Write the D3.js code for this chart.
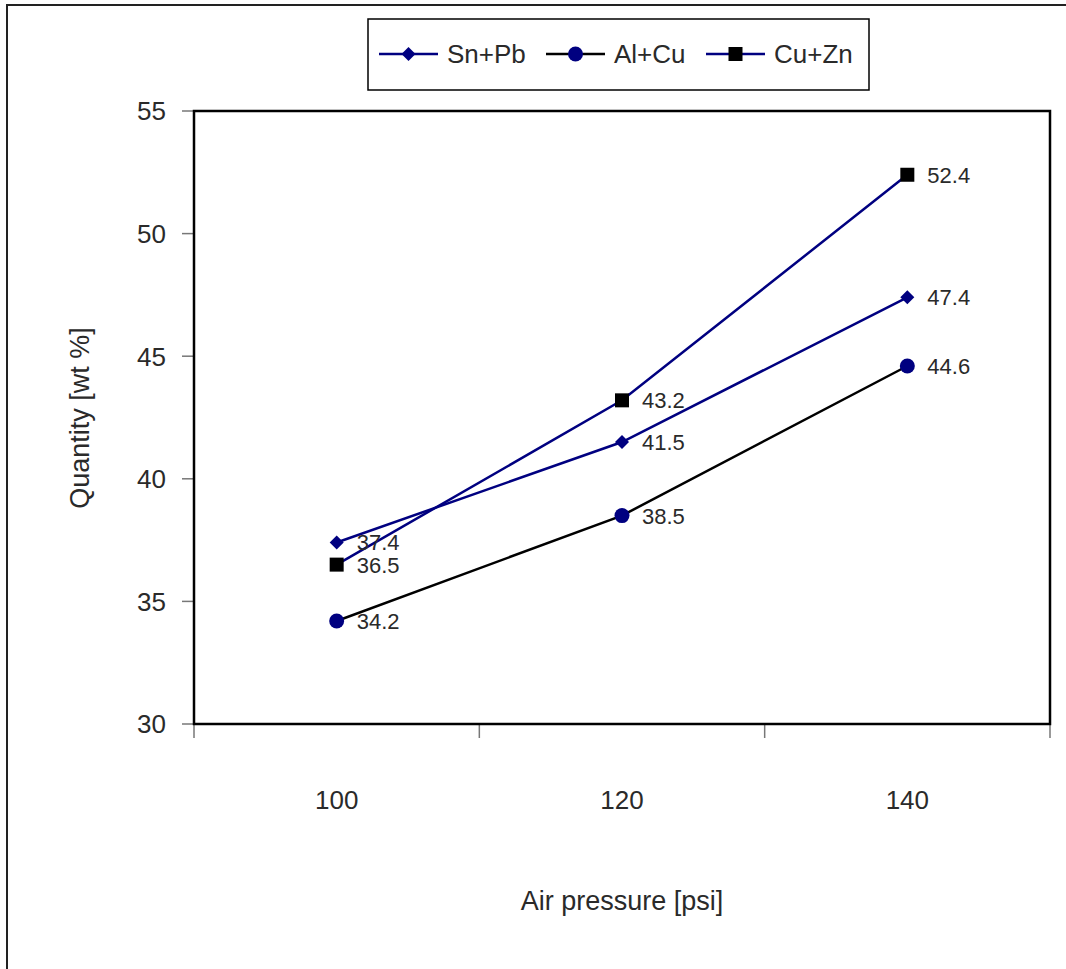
<!DOCTYPE html>
<html>
<head>
<meta charset="utf-8">
<script src="https://cdn.jsdelivr.net/npm/d3@7"></script>
<style>
  body { margin: 0; background: #fff; }
  text { font-family: "Liberation Sans", Arial, sans-serif; fill: #2a2a2a; }
</style>
</head>
<body>
<svg id="chart" width="1066" height="969"></svg>
<script>
// data
var pressures = ["100", "120", "140"];
var snPb = [37.4, 41.5, 47.4];
var alCu = [34.2, 38.5, 44.6];
var cuZn = [36.5, 43.2, 52.4];
var yTicks = [30, 35, 40, 45, 50, 55];

var series = [
  { name: "Sn+Pb", values: snPb, line: "#000080", marker: "diamond", fill: "#000080" },
  { name: "Al+Cu", values: alCu, line: "#000000", marker: "circle", fill: "#000080" },
  { name: "Cu+Zn", values: cuZn, line: "#000080", marker: "square", fill: "#000000" }
];

var svg = d3.select("#chart");

// outer border (runs off the right and bottom edge)
svg.append("rect")
  .attr("x", 7).attr("y", 5)
  .attr("width", 1100).attr("height", 1000)
  .attr("fill", "none").attr("stroke", "#222").attr("stroke-width", 2);

var plotL = 194, plotR = 1050, plotT = 111, plotB = 724;

var x = d3.scaleBand().domain(pressures).range([plotL, plotR]).padding(0);
var y = d3.scaleLinear().domain([30, 55]).range([plotB, plotT]);

// y ticks + labels
var yAxis = svg.append("g");
yAxis.selectAll("line").data(yTicks).enter().append("line")
  .attr("x1", plotL - 12).attr("x2", plotL)
  .attr("y1", function(d) { return y(d); }).attr("y2", function(d) { return y(d); })
  .attr("stroke", "#777").attr("stroke-width", 1.5);
yAxis.selectAll("text").data(yTicks).enter().append("text")
  .attr("x", plotL - 28).attr("y", function(d) { return y(d); })
  .attr("dy", "0.36em")
  .attr("text-anchor", "end")
  .style("font-size", "26px")
  .text(function(d) { return d; });

// x ticks at band edges
var xEdges = pressures.map(function(p) { return x(p); }).concat([plotR]);
svg.append("g").selectAll("line").data(xEdges).enter().append("line")
  .attr("x1", function(d) { return d; }).attr("x2", function(d) { return d; })
  .attr("y1", plotB).attr("y2", plotB + 14)
  .attr("stroke", "#777").attr("stroke-width", 1.5);
svg.append("g").selectAll("text").data(pressures).enter().append("text")
  .attr("x", function(d) { return x(d) + x.bandwidth() / 2; })
  .attr("y", 809)
  .attr("text-anchor", "middle")
  .style("font-size", "26px")
  .text(function(d) { return d; });

// plot frame
svg.append("rect")
  .attr("x", plotL).attr("y", plotT)
  .attr("width", plotR - plotL).attr("height", plotB - plotT)
  .attr("fill", "none").attr("stroke", "#000").attr("stroke-width", 2.5);

// axis titles
svg.append("text")
  .attr("x", 622).attr("y", 910)
  .attr("text-anchor", "middle")
  .style("font-size", "27px")
  .text("Air pressure [psi]");
svg.append("text")
  .attr("transform", "translate(89,418) rotate(-90)")
  .attr("text-anchor", "middle")
  .style("font-size", "27px")
  .text("Quantity [wt %]");

function drawMarker(g, type, fill, cx, cy) {
  if (type === "diamond") {
    g.append("path")
      .attr("d", "M" + cx + "," + (cy - 7) + " L" + (cx + 7) + "," + cy + " L" + cx + "," + (cy + 7) + " L" + (cx - 7) + "," + cy + "Z")
      .attr("fill", fill);
  } else if (type === "circle") {
    g.append("circle").attr("cx", cx).attr("cy", cy).attr("r", 7.5).attr("fill", fill);
  } else {
    g.append("rect").attr("x", cx - 7).attr("y", cy - 7).attr("width", 14).attr("height", 14).attr("fill", fill);
  }
}

var line = d3.line()
  .x(function(d, i) { return x(pressures[i]) + x.bandwidth() / 2; })
  .y(function(d) { return y(d); });

series.forEach(function(s) {
  var g = svg.append("g");
  g.append("path")
    .attr("d", line(s.values))
    .attr("fill", "none")
    .attr("stroke", s.line)
    .attr("stroke-width", 2.5);
  s.values.forEach(function(v, i) {
    var cx = x(pressures[i]) + x.bandwidth() / 2;
    drawMarker(g, s.marker, s.fill, cx, y(v));
  });
});

// data labels on top
series.forEach(function(s) {
  svg.append("g").selectAll("text").data(s.values).enter().append("text")
    .attr("x", function(d, i) { return x(pressures[i]) + x.bandwidth() / 2 + 20; })
    .attr("y", function(d) { return y(d); })
    .attr("dy", "0.36em")
    .style("font-size", "22px")
    .text(function(d) { return d.toFixed(1); });
});

// legend
var legend = svg.append("g");
legend.append("rect")
  .attr("x", 368).attr("y", 19).attr("width", 501).attr("height", 71)
  .attr("fill", "#fff").attr("stroke", "#000").attr("stroke-width", 1.5);
var legX = [379, 546, 706];
series.forEach(function(s, i) {
  var lx = legX[i];
  legend.append("line")
    .attr("x1", lx).attr("x2", lx + 59)
    .attr("y1", 54).attr("y2", 54)
    .attr("stroke", s.line).attr("stroke-width", 2.5);
  drawMarker(legend, s.marker, s.fill, lx + 29.5, 54);
  legend.append("text")
    .attr("x", lx + 68).attr("y", 54)
    .attr("dy", "0.36em")
    .style("font-size", "26px")
    .text(s.name);
});
</script>
</body>
</html>
